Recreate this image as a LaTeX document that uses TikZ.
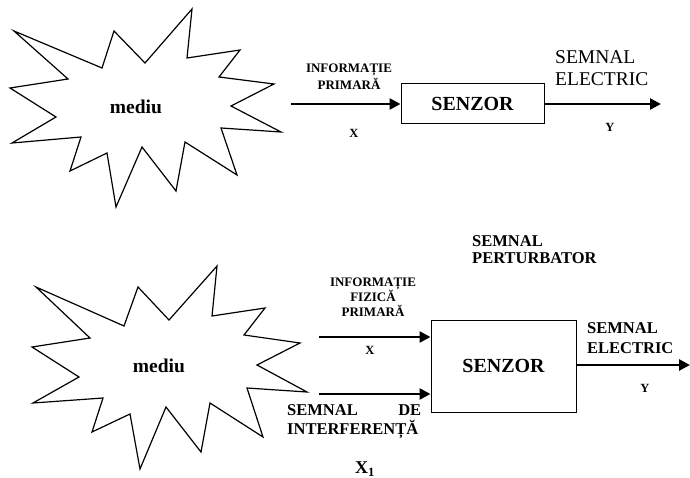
\documentclass[tikz,border=0pt]{standalone}
\usepackage{fontspec}
\setmainfont{Liberation Serif}
\usetikzlibrary{arrows.meta,positioning}

\tikzset{
  starline/.style={draw=black, line width=1.2pt, line join=miter},
  sensorbox/.style={draw=black, line width=1pt, inner sep=0pt, font=\bfseries\fontsize{20}{22}\selectfont},
  sigarrow/.style={line width=2.6pt, -{Triangle[length=11pt,width=11pt]}},
  lbl/.style={inner sep=0pt, align=center, font=\bfseries\fontsize{13}{14.5}\selectfont},
  varlbl/.style={inner sep=0pt, font=\bfseries\fontsize{12.5}{14}\selectfont},
}

\begin{document}
\begin{tikzpicture}[x=1pt, y=-1pt]
\useasboundingbox (0,0) rectangle (690,478);

%% upper scheme ======================================================
\draw[starline] (14,31) -- (102,68) -- (114,31) -- (145,63) -- (192,9) -- (187,58)
  -- (240,50) -- (219,77) -- (274,84) -- (231,106) -- (281,132) -- (221,128)
  -- (237,175) -- (185,142) -- (176,191) -- (142,147) -- (116,207) -- (107,153)
  -- (70,171) -- (81,137) -- (12,143) -- (56,117) -- (10,88) -- (68,79) -- cycle;
\node[inner sep=0pt, font=\bfseries\fontsize{19.5}{21}\selectfont] (mediuA) at (136,107) {mediu};

\node[sensorbox, minimum width=143pt, minimum height=40pt] (senzorA) at (472.5,104) {SENZOR};

\coordinate (inA) at (291,104);
\coordinate (outA) at (661,104);
\draw[sigarrow] (inA) -- (senzorA.west);
\draw[sigarrow] (senzorA.east) -- (outA);

\node[lbl, font=\bfseries\fontsize{13}{17}\selectfont] (infoA) at (349,77) {INFORMAȚIE\\PRIMARĂ};
\node[varlbl] (xA) at (354,133) {X};
\node[varlbl] (yA) at (610,127) {Y};
\node[inner sep=0pt, anchor=west, align=left, font=\fontsize{19.5}{22}\selectfont]
  (semnalA) at (555,68) {SEMNAL\\ELECTRIC};

%% lower scheme ======================================================
\draw[starline] (36,287) -- (124,326) -- (138,287) -- (169,320) -- (217,266) -- (212,316)
  -- (265,308) -- (244,335) -- (300,343) -- (257,365) -- (307,392) -- (247,388)
  -- (263,437) -- (210,403) -- (201,452) -- (166,407) -- (140,469) -- (130,414)
  -- (92,432) -- (103,398) -- (33,403) -- (79,377) -- (32,347) -- (90,338) -- cycle;
\node[inner sep=0pt, font=\bfseries\fontsize{19.5}{21}\selectfont] (mediuB) at (159,366) {mediu};

\node[sensorbox, minimum width=145pt, minimum height=92pt] (senzorB) at (503.5,366) {SENZOR};

\coordinate (inB) at (319,337);
\coordinate (intB) at (319,394);
\coordinate (outB) at (690,365);
\draw[sigarrow] (inB) -- (inB -| senzorB.west);
\draw[sigarrow] (intB) -- (intB -| senzorB.west);
\draw[sigarrow] (senzorB.east |- outB) -- (outB);

\node[lbl] (infoB) at (373,297) {INFORMAȚIE\\FIZICĂ\\PRIMARĂ};
\node[varlbl] (xB) at (370,350) {X};
\node[inner sep=0pt, anchor=west, align=left, text width=134pt,
      font=\bfseries\fontsize{16.5}{19}\selectfont]
  (interfB) at (287,422) {SEMNAL\hfill DE\\INTERFERENȚĂ};
\node[inner sep=0pt, font=\bfseries\fontsize{18}{19}\selectfont] (x1B) at (365,469) {X\textsubscript{1}};
\node[inner sep=0pt, anchor=west, align=left, font=\bfseries\fontsize{16.5}{17}\selectfont]
  (pertB) at (472,250) {SEMNAL\\PERTURBATOR};
\node[inner sep=0pt, anchor=west, align=left, font=\bfseries\fontsize{16.5}{20}\selectfont]
  (semnalB) at (587,338) {SEMNAL\\ELECTRIC};
\node[varlbl] (yB) at (645,388) {Y};

\end{tikzpicture}
\end{document}
